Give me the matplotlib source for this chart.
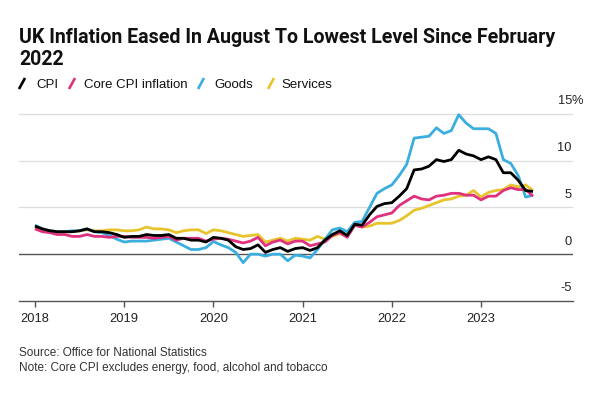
import matplotlib
matplotlib.use('Agg')
import matplotlib.pyplot as plt
import matplotlib.transforms as mtransforms
from matplotlib.lines import Line2D
import numpy as np

plt.rcParams['font.family'] = ['Liberation Sans', 'DejaVu Sans']

# ---------------- data (monthly, Jan 2018 - Aug 2023) ----------------
start_year = 2018
cpi = [3.0, 2.7, 2.5, 2.4, 2.4, 2.4, 2.5, 2.7, 2.4, 2.4, 2.3, 2.1,
       1.8, 1.9, 1.9, 2.1, 2.0, 2.0, 2.1, 1.7, 1.7, 1.5, 1.5, 1.3,
       1.8, 1.7, 1.5, 0.8, 0.5, 0.6, 1.0, 0.2, 0.5, 0.7, 0.3, 0.6,
       0.7, 0.4, 0.7, 1.5, 2.1, 2.5, 2.0, 3.2, 3.1, 4.2, 5.1, 5.4,
       5.5, 6.2, 7.0, 9.0, 9.1, 9.4, 10.1, 9.9, 10.1, 11.1, 10.7, 10.5,
       10.1, 10.4, 10.1, 8.7, 8.7, 7.9, 6.8, 6.7]
core = [2.7, 2.4, 2.3, 2.1, 2.1, 1.9, 1.9, 2.1, 1.9, 1.9, 1.8, 1.9,
        1.9, 1.8, 1.8, 1.8, 1.7, 1.8, 1.9, 1.5, 1.7, 1.7, 1.7, 1.4,
        1.6, 1.7, 1.6, 1.4, 1.2, 1.4, 1.8, 0.9, 1.3, 1.5, 1.1, 1.4,
        1.4, 0.9, 1.1, 1.3, 2.0, 2.3, 1.8, 3.1, 2.9, 3.4, 4.0, 4.2,
        4.4, 5.2, 5.7, 6.2, 5.9, 5.8, 6.2, 6.3, 6.5, 6.5, 6.3, 6.3,
        5.8, 6.2, 6.2, 6.8, 7.1, 6.9, 6.9, 6.2]
goods = [3.1, 2.7, 2.5, 2.4, 2.4, 2.5, 2.5, 2.7, 2.4, 2.3, 2.0, 1.6,
         1.3, 1.4, 1.4, 1.4, 1.5, 1.6, 1.7, 1.3, 0.9, 0.5, 0.5, 0.7,
         1.35, 1.0, 0.7, 0.2, -0.9, 0.0, 0.0, -0.2, 0.0, 0.0, -0.7, -0.1,
         -0.2, -0.4, 0.5, 1.6, 2.6, 2.8, 2.4, 3.4, 3.5, 5.0, 6.5, 7.0,
         7.4, 8.4, 9.6, 12.4, 12.5, 12.6, 13.5, 12.9, 13.2, 14.9, 14.0, 13.4,
         13.4, 13.4, 12.9, 10.1, 9.7, 8.4, 6.1, 6.3]
services = [2.9, 2.6, 2.5, 2.4, 2.4, 2.4, 2.5, 2.6, 2.5, 2.5, 2.6, 2.6,
            2.5, 2.5, 2.6, 2.9, 2.7, 2.7, 2.6, 2.3, 2.5, 2.6, 2.6, 2.2,
            2.6, 2.5, 2.3, 2.1, 1.9, 2.0, 2.1, 1.3, 1.5, 1.7, 1.4, 1.7,
            1.6, 1.5, 1.9, 1.6, 1.9, 2.2, 1.9, 3.1, 2.9, 3.0, 3.3, 3.3,
            3.3, 3.6, 4.1, 4.7, 4.9, 5.2, 5.5, 5.8, 5.9, 6.2, 6.3, 6.8,
            6.1, 6.6, 6.8, 6.9, 7.4, 7.2, 7.4, 6.8]

series_names = ['CPI', 'Core CPI inflation', 'Goods', 'Services']
series_colors = ['#000000', '#e0317e', '#3aaede', '#e8c42c']
year_ticks = [2018, 2019, 2020, 2021, 2022, 2023]
y_levels = [15, 10, 5, 0, -5]

title_line1 = 'UK Inflation Eased In August To Lowest Level Since February'
title_line2 = '2022'
source_text = 'Source: Office for National Statistics'
note_text = 'Note: Core CPI excludes energy, food, alcohol and tobacco'

# ---------------- figure ----------------
W, H = 600, 400
fig = plt.figure(figsize=(6, 4), dpi=100)
fig.patch.set_facecolor('white')


def fx(px):
    return px / W


def fy(py):
    return 1 - py / H


ax_left, ax_right, ax_bottom, ax_top = 19, 573, 301, 104.4
ax = fig.add_axes([fx(ax_left), fy(ax_bottom), (ax_right - ax_left) / W,
                   (ax_bottom - ax_top) / H])
ax.set_xlim(2017.8206, 2024.031)
ax.set_ylim(-5, 16)

x = start_year + np.arange(len(cpi)) / 12.0

# gridlines
for v in [5, 10, 15]:
    ax.axhline(v, color='#dddddd', lw=0.9, zorder=1)
ax.axhline(0, color='#555555', lw=1.0, zorder=1)

data = [cpi, core, goods, services]
order = [3, 2, 1, 0]
for i in order:
    ax.plot(x, data[i], color=series_colors[i], lw=2.0, zorder=3 + (3 - i),
            solid_joinstyle='round', solid_capstyle='butt')

for s in ['left', 'right', 'top']:
    ax.spines[s].set_visible(False)
ax.spines['bottom'].set_color('#555555')
ax.spines['bottom'].set_linewidth(1.0)
ax.set_yticks([])
ax.set_xticks(year_ticks)
ax.set_xticklabels([str(y) for y in year_ticks])
ax.tick_params(axis='x', length=4, width=1.0, color='#555555', pad=5,
               labelsize=9.3, labelcolor='#222222', direction='out')

# right-side y labels above gridlines
trans = mtransforms.blended_transform_factory(ax.transAxes, ax.transData)
xr = (572 - ax_left) / (ax_right - ax_left)
for v in y_levels:
    ax.text(xr, v + 1.35, str(v), transform=trans, ha='right', va='center',
            fontsize=9.3, color='#222222', clip_on=False)
    if v == 15:
        ax.text(xr, v + 1.35, '%', transform=trans, ha='left', va='center',
                fontsize=9.3, color='#222222', clip_on=False)

# title
title_family = ['Roboto', 'Liberation Sans', 'DejaVu Sans']
t1 = fig.text(fx(19), fy(43), title_line1, fontsize=13, weight='bold',
              family=title_family, ha='left', va='baseline', color='#111111')
fig.canvas.draw()
w = t1.get_window_extent().width
fs = 13 * 537.0 / w
t1.set_fontsize(fs)
fig.text(fx(19), fy(65), title_line2, fontsize=fs, weight='bold',
         family=title_family, ha='left', va='baseline', color='#111111')

# legend
slash_x = [19, 69, 198, 268]
text_x = [36, 84, 214, 281]
for name, col, sx, tx in zip(series_names, series_colors, slash_x, text_x):
    fig.add_artist(Line2D([fx(sx), fx(sx + 6)], [fy(89), fy(78)],
                          transform=fig.transFigure, color=col, lw=1.9,
                          solid_capstyle='butt'))
    fig.text(fx(tx), fy(88), name, fontsize=9.5, ha='left', va='baseline',
             color='#111111')

# footer
fig.text(fx(19), fy(356), source_text, fontsize=8.5, ha='left',
         va='baseline', color='#333333')
fig.text(fx(19), fy(371), note_text, fontsize=8.5, ha='left',
         va='baseline', color='#333333')

fig.savefig('out.png', dpi=100, facecolor='white')
